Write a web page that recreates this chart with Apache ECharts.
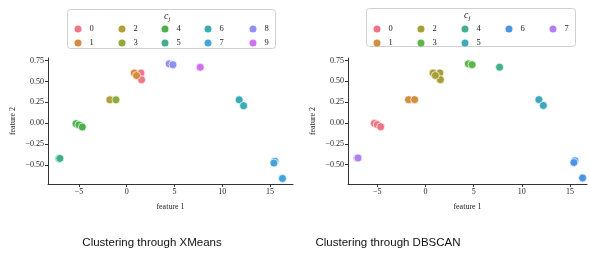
<!DOCTYPE html>
<html>
<head>
<meta charset="utf-8">
<script src="https://cdn.jsdelivr.net/npm/echarts@6/dist/echarts.min.js"></script>
<style>
  html, body { margin: 0; padding: 0; background: #fff; }
  #main { width: 590px; height: 258px; }
</style>
</head>
<body>
<div id="main"></div>
<script>
  // points (feature 1, feature 2), same for both panels
  const featX = [1.49, 1.55, 0.79, 1.03, -1.76, -1.13, -5.3, -5.0, -4.65, -7.1, -7.0, 11.77, 12.23, 15.5, 15.4, 16.3, 4.45, 4.83, 7.69]
  const featY = [0.60, 0.52, 0.60, 0.57, 0.28, 0.28, -0.005, -0.02, -0.045, -0.42, -0.42, 0.28, 0.21, -0.455, -0.475, -0.66, 0.71, 0.70, 0.67]
  // cluster labels
  const xmeansLabel = [0, 0, 1, 1, 2, 3, 4, 4, 4, 5, 5, 6, 6, 7, 7, 7, 8, 8, 9]
  const dbscanLabel = [2, 2, 2, 2, 1, 1, 0, 0, 0, 7, 7, 5, 5, 6, 6, 6, 3, 3, 4]
  const xmeansClusters = [0, 1, 2, 3, 4, 5, 6, 7, 8, 9]
  const dbscanClusters = [0, 1, 2, 3, 4, 5, 6, 7]
  // legend columns (matplotlib ncol=5 layout)
  const xmeansLegendCols = [[0, 1], [2, 3], [4, 5], [6, 7], [8, 9]]
  const dbscanLegendCols = [[0, 1], [2, 3], [4, 5], [6], [7]]
  const xmeansColors = ['#f0768a', '#d98a3c', '#b39f3a', '#8cab3a', '#4cb04c', '#3daf8a', '#3aaab4', '#45a3dc', '#8e90f2', '#d070f0']
  const dbscanColors = ['#ee7483', '#d28f3e', '#a5a035', '#5cb64a', '#44b08e', '#3ea9bd', '#4a95e8', '#b07ff0']
  const yTicks = [-0.5, -0.25, 0, 0.25, 0.5, 0.75]
  const xTicks = [-5, 0, 5, 10, 15]
  const titles = ['Clustering through XMeans', 'Clustering through DBSCAN']

  const serif = 'Liberation Serif'
  const minus = (s) => s.replace('-', '\u2212')

  function xAxisFor (idx, min, max) {
    return {
      type: 'value', gridIndex: idx, min: min, max: max,
      name: 'feature 1', nameLocation: 'middle', nameGap: 19,
      nameTextStyle: {fontFamily: serif, fontSize: 8, color: '#222'},
      axisLine: {show: true, onZero: false, lineStyle: {color: '#333', width: 1}},
      axisTick: {show: true, length: 3, lineStyle: {color: '#333'}, customValues: xTicks},
      axisLabel: {fontFamily: serif, fontSize: 8, color: '#222', margin: 4,
        customValues: xTicks, formatter: (v) => minus(String(v))},
      splitLine: {show: false}
    }
  }

  function yAxisFor (idx, min, max) {
    return {
      type: 'value', gridIndex: idx, min: min, max: max,
      name: 'feature 2', nameLocation: 'middle', nameGap: 31,
      nameTextStyle: {fontFamily: serif, fontSize: 8, color: '#222'},
      axisLine: {show: true, onZero: false, lineStyle: {color: '#333', width: 1}},
      axisTick: {show: true, length: 3, lineStyle: {color: '#333'}, customValues: yTicks},
      axisLabel: {fontFamily: serif, fontSize: 8, color: '#222', margin: 4,
        customValues: yTicks, formatter: (v) => minus(v.toFixed(2))},
      splitLine: {show: false}
    }
  }

  const series = []
  function addSeries (prefix, idx, labels, clusters, colors) {
    clusters.forEach((c) => {
      const pts = []
      labels.forEach((l, i) => { if (l === c) pts.push([featX[i], featY[i]]) })
      series.push({
        name: prefix + c,
        type: 'scatter',
        xAxisIndex: idx,
        yAxisIndex: idx,
        symbolSize: 8,
        itemStyle: {color: colors[c], borderColor: '#fff', borderWidth: 0.7, opacity: 1},
        data: pts
      })
    })
  }
  addSeries('L', 0, xmeansLabel, xmeansClusters, xmeansColors)
  addSeries('R', 1, dbscanLabel, dbscanClusters, dbscanColors)

  // legends: one vertical legend per column
  const legends = []
  function addLegends (prefix, cols, colCenters) {
    colCenters.forEach((cx, col) => {
      legends.push({
        orient: 'vertical', left: cx - 3.5, top: 24.5, padding: 0,
        itemWidth: 13, itemHeight: 7, itemGap: 5, icon: 'circle',
        itemStyle: {borderWidth: 0},
        formatter: (n) => n.slice(1),
        textStyle: {fontFamily: serif, fontSize: 8.5, color: '#222'},
        selectedMode: false,
        data: cols[col].map((c) => prefix + c)
      })
    })
  }
  addLegends('L', xmeansLegendCols, [78, 122, 165, 208, 253])
  addLegends('R', dbscanLegendCols, [377, 421, 465, 509, 553])

  function legendFrame (x, y, w, h, cx) {
    return [
      {type: 'rect', left: x, top: y, z: 0, shape: {width: w, height: h, r: 3},
        style: {fill: '#fff', stroke: '#d0d0d0', lineWidth: 1}},
      {type: 'text', left: cx - 4, top: y + 2, z: 1,
        style: {text: '{c|c}{j|j}', rich: {
          c: {fontFamily: serif, fontStyle: 'italic', fontSize: 10, fill: '#222'},
          j: {fontFamily: serif, fontStyle: 'italic', fontSize: 7, fill: '#222', padding: [6, 0, 0, 0]}
        }}}
    ]
  }

  const titleStyle = {fontFamily: 'Liberation Sans', fontSize: 11.5, fontWeight: 'normal', color: '#111'}
  const chart = echarts.init(document.getElementById('main'))
  chart.setOption({
    animation: false,
    backgroundColor: '#fff',
    title: [
      {text: titles[0], left: 152, top: 237, padding: 0, textAlign: 'center', textStyle: titleStyle},
      {text: titles[1], left: 388, top: 237, padding: 0, textAlign: 'center', textStyle: titleStyle}
    ],
    grid: [
      {left: 48, top: 58, width: 245, height: 126, containLabel: false},
      {left: 348, top: 58, width: 239, height: 126, containLabel: false}
    ],
    xAxis: [xAxisFor(0, -8.24, 17.4), xAxisFor(1, -8.04, 16.76)],
    yAxis: [yAxisFor(0, -0.726, 0.78), yAxisFor(1, -0.733, 0.78)],
    legend: legends,
    graphic: legendFrame(67, 9, 208, 39, 168).concat(legendFrame(366, 8, 209, 38, 468)),
    series: series
  })
</script>
</body>
</html>
